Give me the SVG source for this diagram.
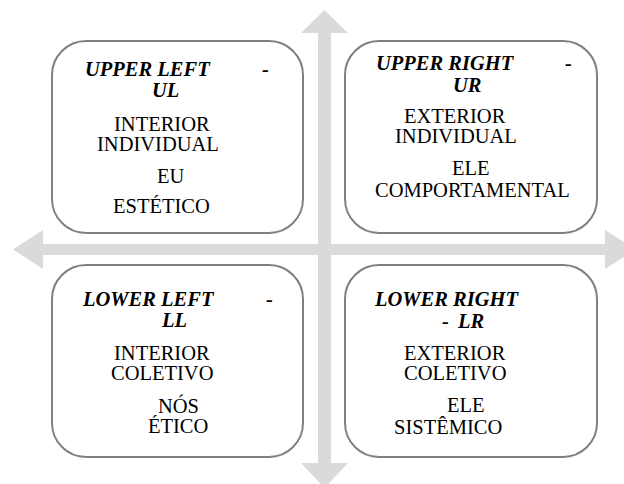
<svg xmlns="http://www.w3.org/2000/svg" width="624" height="484" viewBox="0 0 624 484">
<style>
.box{fill:#ffffff;stroke:#808080;stroke-width:2}
.arrow{fill:#dadada;stroke:none}
text{font-family:"Liberation Serif","Times New Roman",serif;font-size:20.5px;fill:#000000}
.t{font-weight:bold;font-style:italic}
</style>
<rect width="624" height="484" fill="#ffffff"/>
<g id="connectors">
<polygon class="arrow" points="324.5,10 348,33 331,33 331,244 605,244 605,230 636,249.5 605,269 605,255 331,255 331,463 348,463 324.5,488 301,463 318,463 318,255 43,255 43,269 13,249.5 43,230 43,244 318,244 318,33 301,33"/>
</g>
<g id="ul">
<rect class="box" x="52" y="41" width="251" height="192" rx="34" ry="34"/>
<text class="t" x="85" y="76">UPPER LEFT</text>
<text class="t" x="262" y="76">-</text>
<text class="t" x="152" y="97">UL</text>
<text x="114" y="131">INTERIOR</text>
<text x="97" y="151">INDIVIDUAL</text>
<text x="157" y="183">EU</text>
<text x="113" y="213">ESTÉTICO</text>
</g>
<g id="ur">
<rect class="box" x="345" y="41" width="252" height="192" rx="34" ry="34"/>
<text class="t" x="376" y="70">UPPER RIGHT</text>
<text class="t" x="565" y="70">-</text>
<text class="t" x="453" y="92">UR</text>
<text x="404" y="123">EXTERIOR</text>
<text x="395" y="143">INDIVIDUAL</text>
<text x="452" y="175">ELE</text>
<text x="375" y="197">COMPORTAMENTAL</text>
</g>
<g id="ll">
<rect class="box" x="52" y="265" width="251" height="192" rx="34" ry="34"/>
<text class="t" x="83" y="306">LOWER LEFT</text>
<text class="t" x="266" y="306">-</text>
<text class="t" x="162" y="327">LL</text>
<text x="114" y="360">INTERIOR</text>
<text x="111" y="380">COLETIVO</text>
<text x="158" y="413">NÓS</text>
<text x="148" y="433">ÉTICO</text>
</g>
<g id="lr">
<rect class="box" x="345" y="265" width="252" height="192" rx="34" ry="34"/>
<text class="t" x="375" y="306">LOWER RIGHT</text>
<text class="t" x="442" y="328">-</text>
<text class="t" x="458" y="328">LR</text>
<text x="404" y="360">EXTERIOR</text>
<text x="404" y="380">COLETIVO</text>
<text x="447" y="412">ELE</text>
<text x="394" y="434">SISTÊMICO</text>
</g>
</svg>
